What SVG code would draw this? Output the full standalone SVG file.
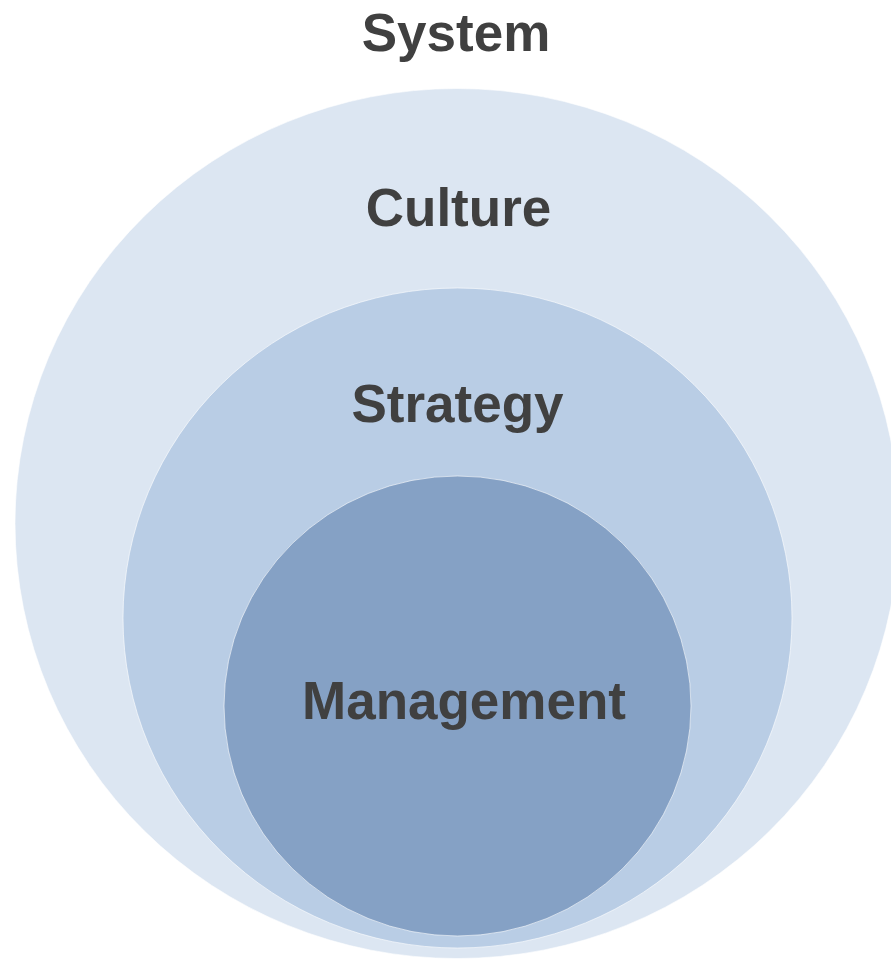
<svg xmlns="http://www.w3.org/2000/svg" width="891" height="959" viewBox="0 0 891 959">
<style>
.lbl{font-family:"Liberation Sans",Arial,sans-serif;font-weight:bold;font-size:53px;fill:#404040;text-anchor:middle}
.ring{stroke:#ffffff;stroke-opacity:0.6;stroke-width:1}
</style>
<rect width="891" height="959" fill="#ffffff"/>
<g id="system">
<text class="lbl" x="456" y="51">System</text>
</g>
<g id="culture">
<ellipse class="ring" cx="457" cy="523.5" rx="442" ry="435" fill="#DCE6F2"/>
<text class="lbl" x="458.5" y="226">Culture</text>
</g>
<g id="strategy">
<ellipse class="ring" cx="457.5" cy="618" rx="334.5" ry="330" fill="#B9CDE5"/>
<text class="lbl" x="457.5" y="422">Strategy</text>
</g>
<g id="management">
<ellipse class="ring" cx="457.5" cy="706" rx="233.5" ry="230" fill="#85A1C5"/>
<text class="lbl" x="464" y="719">Management</text>
</g>
<g id="connectors"></g>
</svg>
